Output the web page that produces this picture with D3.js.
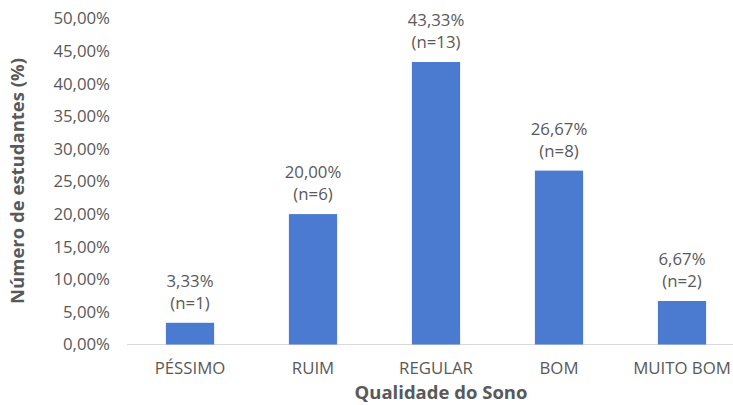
<!DOCTYPE html>
<html><head><meta charset="utf-8">
<script src="https://cdn.jsdelivr.net/npm/d3@7"></script>
<style>body{margin:0;background:#fff}svg{display:block}text{font-family:"Open Sans",sans-serif}</style>
</head><body><svg id="c" width="733" height="405"></svg>
<script>
const categories = ["PÉSSIMO","RUIM","REGULAR","BOM","MUITO BOM"];
const values = [3.33, 20.00, 43.33, 26.67, 6.67];
const counts = [1, 6, 13, 8, 2];
const yTicks = [0,5,10,15,20,25,30,35,40,45,50];

const svg = d3.select("#c");
const x = d3.scaleBand().domain(categories).range([128.5, 743.5]).paddingInner(0.608).paddingOuter(0.304);
const y = d3.scaleLinear().domain([0,50]).range([344.5, 18.5]);
const fmt = v => v.toFixed(2).replace(".", ",") + "%";
const grey = "#595959";
const fs = 16.8;

// y tick labels
svg.append("g").selectAll("text").data(yTicks).join("text")
  .attr("x", 110).attr("y", d => y(d)).attr("dy", "0.35em")
  .attr("text-anchor", "end").attr("font-size", fs).attr("fill", grey)
  .text(d => fmt(d));

// baseline
svg.append("line").attr("x1", 127).attr("x2", 733).attr("y1", y(0)).attr("y2", y(0))
  .attr("stroke", "#d9d9d9").attr("stroke-width", 1);

// bars
svg.append("g").selectAll("rect").data(values).join("rect")
  .attr("x", (d,i) => x(categories[i])).attr("width", x.bandwidth())
  .attr("y", d => y(d)).attr("height", d => y(0) - y(d))
  .attr("fill", "#4a7bd1");

// data labels
const lab = svg.append("g").selectAll("g").data(values).join("g")
  .attr("transform", (d,i) => `translate(${x(categories[i]) + x.bandwidth()/2},${y(d)})`);
lab.append("text").attr("y", -42).attr("dy","0.35em").attr("text-anchor","middle")
  .attr("font-size", fs).attr("fill", grey).text(d => fmt(d));
lab.append("text").attr("y", -20).attr("dy","0.35em").attr("text-anchor","middle")
  .attr("font-size", fs).attr("fill", grey).text((d,i) => `(n=${counts[i]})`);

// x tick labels
svg.append("g").selectAll("text").data(categories).join("text")
  .attr("x", d => x(d) + x.bandwidth()/2).attr("y", 368).attr("dy","0.35em")
  .attr("text-anchor","middle").attr("font-size", fs).attr("fill", grey).text(d => d);

// axis titles
svg.append("text").attr("x", 441).attr("y", 393).attr("dy","0.35em").attr("text-anchor","middle")
  .attr("font-size", 18.5).attr("font-weight","bold").attr("fill", grey).text("Qualidade do Sono");
svg.append("text").attr("transform","translate(18,181) rotate(-90)").attr("dy","0.35em")
  .attr("text-anchor","middle").attr("font-size", 18.5).attr("font-weight","bold").attr("fill", grey)
  .text("Número de estudantes (%)");
</script></body></html>
